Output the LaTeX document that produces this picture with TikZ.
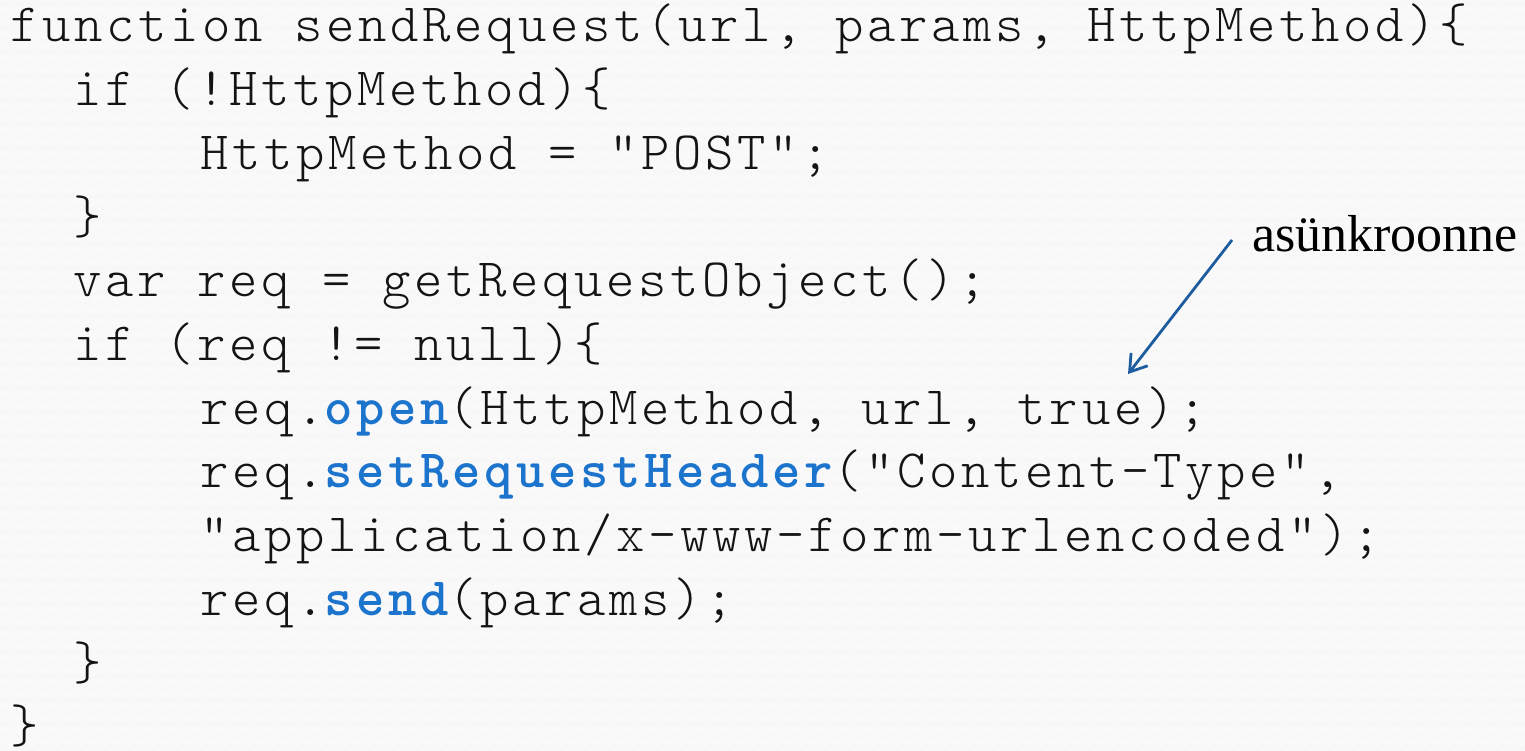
\documentclass[tikz,border=0pt]{standalone}
\usepackage{fontspec}
\usetikzlibrary{arrows.meta}
\setmainfont{Liberation Serif}
\newfontfamily\codefont{Latin Modern Mono Light}[LetterSpace=6.8]
\definecolor{pagebg}{RGB}{249,249,249}
\definecolor{codeink}{RGB}{20,20,20}
\definecolor{kwblue}{RGB}{28,116,204}
\definecolor{arrowblue}{RGB}{30,92,160}
\newcommand{\hl}[1]{\textcolor{kwblue}{\bfseries #1}}
\begin{document}
\begin{tikzpicture}[x=1pt,y=-1pt,
  codeline/.style={anchor=base west,inner sep=0pt,outer sep=0pt,text=codeink,
    font=\codefont\fontsize{54}{63.7}\selectfont},
  note/.style={anchor=base west,inner sep=0pt,text=black,
    font=\fontsize{52}{60}\selectfont},
  pointer/.style={draw=arrowblue,line width=2.8pt,-{Straight Barb[length=16pt,width=21pt,line width=2.8pt]}}]
  % page and bounding box
  \fill[pagebg] (0,0) rectangle (1525,751);
  \useasboundingbox (0,0) rectangle (1525,751);
  % wavy background texture
  \foreach \r in {0,...,62}{
    \draw[gray!9,line width=0.6pt] (0,{\r*12+4}) \foreach \c in {0,...,127}{
      .. controls ({\c*12+3},{\r*12+1}) and ({\c*12+3},{\r*12+1}) .. ({\c*12+6},{\r*12+4})
      .. controls ({\c*12+9},{\r*12+7}) and ({\c*12+9},{\r*12+7}) .. ({\c*12+12},{\r*12+4})};
  }
  % source code, one node per line
  \def\cw{31.68}
  \def\lh{63.7}
  \node[codeline] (l1)  at ({10+0*\cw},{42+0*\lh})  {function sendRequest(url, params, HttpMethod)\{};
  \node[codeline] (l2)  at ({10+2*\cw},{42+1*\lh})  {if (!HttpMethod)\{};
  \node[codeline] (l3)  at ({10+6*\cw},{42+2*\lh})  {HttpMethod = "POST";};
  \node[codeline] (l4)  at ({10+2*\cw},{42+3*\lh})  {\}};
  \node[codeline] (l5)  at ({10+2*\cw},{42+4*\lh})  {var req = getRequestObject();};
  \node[codeline] (l6)  at ({10+2*\cw},{42+5*\lh})  {if (req != null)\{};
  \node[codeline] (l7)  at ({10+6*\cw},{42+6*\lh})  {req.\hl{open}(HttpMethod, url, true);};
  \node[codeline] (l8)  at ({10+6*\cw},{42+7*\lh})  {req.\hl{setRequestHeader}("Content-Type",};
  \node[codeline] (l9)  at ({10+6*\cw},{42+8*\lh})  {"application/x-www-form-urlencoded");};
  \node[codeline] (l10) at ({10+6*\cw},{42+9*\lh})  {req.\hl{send}(params);};
  \node[codeline] (l11) at ({10+2*\cw},{42+10*\lh}) {\}};
  \node[codeline] (l12) at ({10+0*\cw},{42+11*\lh}) {\}};
  % annotation
  \node[note] (async) at (1252,252) {asünkroonne};
  \coordinate (tail) at (1232,240);
  \coordinate (tip) at (1128,374);
  \draw[pointer] (tail) -- (tip);
\end{tikzpicture}
\end{document}
